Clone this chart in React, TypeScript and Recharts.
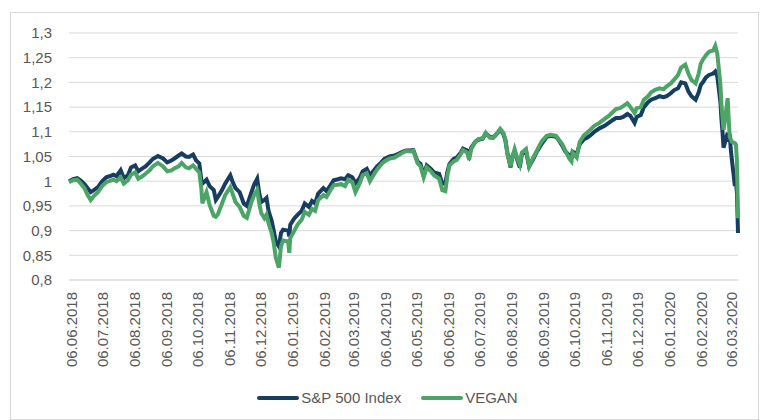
import { LineChart, Line, XAxis, YAxis, CartesianGrid, Legend } from 'recharts';

// daily index levels, read off the reference (base 06.06.2018 = 1)
const dates = [
  '2018-06-04', '2018-06-08', '2018-06-12', '2018-06-15', '2018-06-19', '2018-06-22', '2018-06-25', '2018-06-28',
  '2018-07-02', '2018-07-06', '2018-07-10', '2018-07-13', '2018-07-17', '2018-07-20', '2018-07-24', '2018-07-27',
  '2018-07-31', '2018-08-03', '2018-08-07', '2018-08-10', '2018-08-14', '2018-08-17', '2018-08-21', '2018-08-24',
  '2018-08-29', '2018-09-03', '2018-09-07', '2018-09-11', '2018-09-14', '2018-09-18', '2018-09-21', '2018-09-25',
  '2018-09-28', '2018-10-02', '2018-10-05', '2018-10-08', '2018-10-10', '2018-10-11', '2018-10-15', '2018-10-18',
  '2018-10-22', '2018-10-24', '2018-10-26', '2018-10-30', '2018-11-02', '2018-11-07', '2018-11-09', '2018-11-12',
  '2018-11-16', '2018-11-20', '2018-11-23', '2018-11-27', '2018-11-30', '2018-12-03', '2018-12-05', '2018-12-07',
  '2018-12-10', '2018-12-12', '2018-12-14', '2018-12-17', '2018-12-19', '2018-12-21', '2018-12-24', '2018-12-26',
  '2018-12-28', '2019-01-02', '2019-01-03', '2019-01-04', '2019-01-08', '2019-01-11', '2019-01-15', '2019-01-18',
  '2019-01-22', '2019-01-25', '2019-01-28', '2019-01-31', '2019-02-05', '2019-02-08', '2019-02-12', '2019-02-15',
  '2019-02-19', '2019-02-22', '2019-02-26', '2019-03-01', '2019-03-05', '2019-03-08', '2019-03-12', '2019-03-15',
  '2019-03-19', '2019-03-22', '2019-03-26', '2019-03-29', '2019-04-02', '2019-04-05', '2019-04-10', '2019-04-15',
  '2019-04-18', '2019-04-23', '2019-04-26', '2019-04-30', '2019-05-03', '2019-05-07', '2019-05-10', '2019-05-13',
  '2019-05-16', '2019-05-20', '2019-05-23', '2019-05-28', '2019-05-31', '2019-06-03', '2019-06-05', '2019-06-07',
  '2019-06-11', '2019-06-14', '2019-06-18', '2019-06-20', '2019-06-24', '2019-06-26', '2019-06-28', '2019-07-02',
  '2019-07-05', '2019-07-09', '2019-07-12', '2019-07-16', '2019-07-19', '2019-07-22', '2019-07-26', '2019-07-29',
  '2019-07-31', '2019-08-02', '2019-08-05', '2019-08-07', '2019-08-09', '2019-08-12', '2019-08-14', '2019-08-16',
  '2019-08-20', '2019-08-23', '2019-08-27', '2019-08-30', '2019-09-04', '2019-09-09', '2019-09-13', '2019-09-18',
  '2019-09-20', '2019-09-24', '2019-09-27', '2019-10-01', '2019-10-03', '2019-10-04', '2019-10-08', '2019-10-11',
  '2019-10-15', '2019-10-18', '2019-10-22', '2019-10-25', '2019-10-30', '2019-11-04', '2019-11-08', '2019-11-12',
  '2019-11-15', '2019-11-19', '2019-11-22', '2019-11-26', '2019-11-29', '2019-12-03', '2019-12-05', '2019-12-09',
  '2019-12-12', '2019-12-16', '2019-12-19', '2019-12-23', '2019-12-27', '2019-12-31', '2020-01-03', '2020-01-07',
  '2020-01-10', '2020-01-14', '2020-01-17', '2020-01-21', '2020-01-24', '2020-01-27', '2020-01-31', '2020-02-03',
  '2020-02-05', '2020-02-07', '2020-02-10', '2020-02-13', '2020-02-17', '2020-02-19', '2020-02-21', '2020-02-24',
  '2020-02-25', '2020-02-26', '2020-02-27', '2020-02-28', '2020-03-02', '2020-03-03', '2020-03-04', '2020-03-05',
  '2020-03-06', '2020-03-09', '2020-03-10', '2020-03-11', '2020-03-12',
];

const sp500 = [
  1.000, 1.004, 1.006, 1.002, 0.994, 0.986, 0.978, 0.982,
  0.988, 1.000, 1.008, 1.010, 1.013, 1.010, 1.022, 1.006,
  1.012, 1.028, 1.032, 1.020, 1.026, 1.030, 1.038, 1.045,
  1.051, 1.046, 1.038, 1.042, 1.046, 1.052, 1.056, 1.050,
  1.049, 1.054, 1.042, 1.036, 1.002, 0.995, 1.003, 0.990,
  0.982, 0.962, 0.968, 0.982, 0.995, 1.012, 1.000, 0.986,
  0.978, 0.955, 0.950, 0.975, 0.993, 1.005, 0.975, 0.958,
  0.962, 0.966, 0.940, 0.920, 0.900, 0.878, 0.868, 0.895,
  0.902, 0.900, 0.888, 0.912, 0.925, 0.932, 0.940, 0.955,
  0.948, 0.960, 0.955, 0.975, 0.986, 0.980, 0.992, 1.002,
  1.004, 1.006, 1.004, 1.012, 1.008, 0.996, 1.006, 1.020,
  1.025, 1.012, 1.022, 1.030, 1.038, 1.045, 1.050, 1.052,
  1.055, 1.060, 1.062, 1.062, 1.063, 1.040, 1.035, 1.012,
  1.032, 1.025, 1.018, 1.015, 0.995, 0.996, 1.020, 1.035,
  1.045, 1.048, 1.058, 1.066, 1.062, 1.052, 1.068, 1.080,
  1.084, 1.086, 1.097, 1.090, 1.088, 1.094, 1.104, 1.096,
  1.083, 1.058, 1.028, 1.052, 1.060, 1.040, 1.028, 1.055,
  1.060, 1.030, 1.045, 1.058, 1.075, 1.090, 1.092, 1.090,
  1.085, 1.072, 1.060, 1.052, 1.050, 1.060, 1.055, 1.075,
  1.085, 1.088, 1.094, 1.100, 1.107, 1.112, 1.118, 1.124,
  1.128, 1.128, 1.130, 1.136, 1.132, 1.118, 1.130, 1.134,
  1.150, 1.160, 1.165, 1.168, 1.172, 1.170, 1.172, 1.178,
  1.184, 1.188, 1.200, 1.198, 1.182, 1.172, 1.165, 1.180,
  1.195, 1.200, 1.210, 1.215, 1.218, 1.222, 1.212, 1.160,
  1.125, 1.100, 1.068, 1.075, 1.098, 1.080, 1.095, 1.065,
  1.045, 0.990, 1.000, 0.975, 0.895,
];

const vegan = [
  0.998, 1.002, 1.003, 0.996, 0.986, 0.972, 0.962, 0.970,
  0.978, 0.990, 0.998, 1.000, 1.003, 1.000, 1.008, 0.995,
  1.002, 1.013, 1.018, 1.005, 1.010, 1.015, 1.022, 1.030,
  1.037, 1.030, 1.020, 1.022, 1.026, 1.030, 1.037, 1.028,
  1.026, 1.032, 1.025, 1.018, 0.985, 0.955, 0.978, 0.952,
  0.930, 0.928, 0.933, 0.955, 0.972, 0.988, 0.976, 0.958,
  0.948, 0.930, 0.926, 0.955, 0.972, 0.982, 0.955, 0.935,
  0.925, 0.932, 0.915, 0.895, 0.875, 0.845, 0.825, 0.868,
  0.880, 0.878, 0.855, 0.885, 0.900, 0.912, 0.922, 0.938,
  0.932, 0.944, 0.940, 0.962, 0.972, 0.968, 0.982, 0.992,
  0.993, 0.994, 0.990, 1.003, 0.998, 0.978, 0.995, 1.012,
  1.016, 1.000, 1.014, 1.024, 1.034, 1.040, 1.046, 1.048,
  1.052, 1.058, 1.061, 1.060, 1.062, 1.037, 1.030, 1.008,
  1.028, 1.020, 1.012, 1.005, 0.982, 0.980, 1.012, 1.032,
  1.040, 1.043, 1.055, 1.063, 1.058, 1.043, 1.065, 1.080,
  1.085, 1.087, 1.098, 1.088, 1.088, 1.094, 1.106, 1.098,
  1.085, 1.055, 1.030, 1.050, 1.065, 1.043, 1.033, 1.058,
  1.065, 1.030, 1.048, 1.060, 1.080, 1.092, 1.094, 1.092,
  1.086, 1.075, 1.062, 1.045, 1.040, 1.058, 1.048, 1.080,
  1.093, 1.098, 1.106, 1.112, 1.118, 1.126, 1.132, 1.140,
  1.146, 1.148, 1.152, 1.158, 1.150, 1.138, 1.148, 1.150,
  1.165, 1.172, 1.180, 1.185, 1.188, 1.186, 1.192, 1.198,
  1.205, 1.215, 1.230, 1.236, 1.218, 1.205, 1.198, 1.218,
  1.238, 1.246, 1.255, 1.262, 1.265, 1.274, 1.258, 1.195,
  1.155, 1.130, 1.104, 1.118, 1.168, 1.125, 1.090, 1.085,
  1.080, 1.077, 1.074, 1.040, 0.925,
];

const yTicks = [0.8, 0.85, 0.9, 0.95, 1, 1.05, 1.1, 1.15, 1.2, 1.25, 1.3];
const xTickDates = [
  '2018-06-06', '2018-07-06', '2018-08-06', '2018-09-06', '2018-10-06', '2018-11-06', '2018-12-06',
  '2019-01-06', '2019-02-06', '2019-03-06', '2019-04-06', '2019-05-06', '2019-06-06', '2019-07-06',
  '2019-08-06', '2019-09-06', '2019-10-06', '2019-11-06', '2019-12-06', '2020-01-06', '2020-02-06',
  '2020-03-06',
];

const toTime = (d: string) => Date.UTC(+d.slice(0, 4), +d.slice(5, 7) - 1, +d.slice(8, 10));
const fmtDate = (t: number) => {
  const d = new Date(t);
  const p = (n: number) => String(n).padStart(2, '0');
  return `${p(d.getUTCDate())}.${p(d.getUTCMonth() + 1)}.${d.getUTCFullYear()}`;
};

const data = dates.map((d, i) => ({ t: toTime(d), sp: sp500[i], vegan: vegan[i] }));

const FONT = '"Liberation Sans", Arial, sans-serif';
const TEXT = '#595959';

function DateTick({ x, y, payload }: any) {
  return (
    <text
      x={x}
      y={y}
      transform={`rotate(-90, ${x}, ${y})`}
      textAnchor="end"
      dominantBaseline="central"
      fill={TEXT}
      fontSize={15}
      fontFamily={FONT}
    >
      {fmtDate(payload.value)}
    </text>
  );
}

function LegendContent({ payload }: any) {
  return (
    <div style={{ display: 'flex', justifyContent: 'center', gap: 20, fontFamily: FONT, fontSize: 15, color: TEXT }}>
      {(payload || []).map((p: any) => (
        <div key={p.value} style={{ display: 'flex', alignItems: 'center' }}>
          <svg width={42} height={6} style={{ marginRight: 2 }}>
            <line x1={2} y1={3} x2={40} y2={3} stroke={p.color} strokeWidth={4} strokeLinecap="round" />
          </svg>
          <span>{p.value}</span>
        </div>
      ))}
    </div>
  );
}

export default function App() {
  return (
    <div style={{ position: 'absolute', left: 0, top: 0, width: 763, height: 420, overflow: 'hidden', background: '#fff' }}>
      <div
        style={{
          position: 'absolute', left: 10, top: 12, width: 749, height: 408,
          border: '1px solid #d9d9d9', boxSizing: 'border-box',
        }}
      />
      <LineChart width={763} height={420} data={data} margin={{ top: 33, right: 25, bottom: 50, left: 0 }}>
        <CartesianGrid vertical={false} stroke="#d9d9d9" />
        <XAxis
          dataKey="t"
          type="number"
          domain={[toTime('2018-06-04'), toTime('2020-03-12')]}
          ticks={xTickDates.map(toTime)}
          interval={0}
          height={90}
          tick={<DateTick />}
          tickLine={false}
          tickMargin={6}
          axisLine={{ stroke: '#d9d9d9' }}
        />
        <YAxis
          domain={[0.8, 1.3]}
          ticks={yTicks}
          width={69}
          axisLine={false}
          tickLine={false}
          tickMargin={11}
          tick={{ fill: TEXT, fontSize: 15, fontFamily: FONT }}
          tickFormatter={(v: number) => String(v).replace('.', ',')}
        />
        <Legend
          verticalAlign="middle"
          align="center"
          content={<LegendContent />}
          wrapperStyle={{ top: 389, left: 6, width: 763 }}
        />
        <Line type="linear" dataKey="sp" name="S&P 500 Index" stroke="#173d60" strokeWidth={4} dot={false} isAnimationActive={false} />
        <Line type="linear" dataKey="vegan" name="VEGAN" stroke="#4ca466" strokeWidth={4} dot={false} isAnimationActive={false} />
      </LineChart>
    </div>
  );
}
